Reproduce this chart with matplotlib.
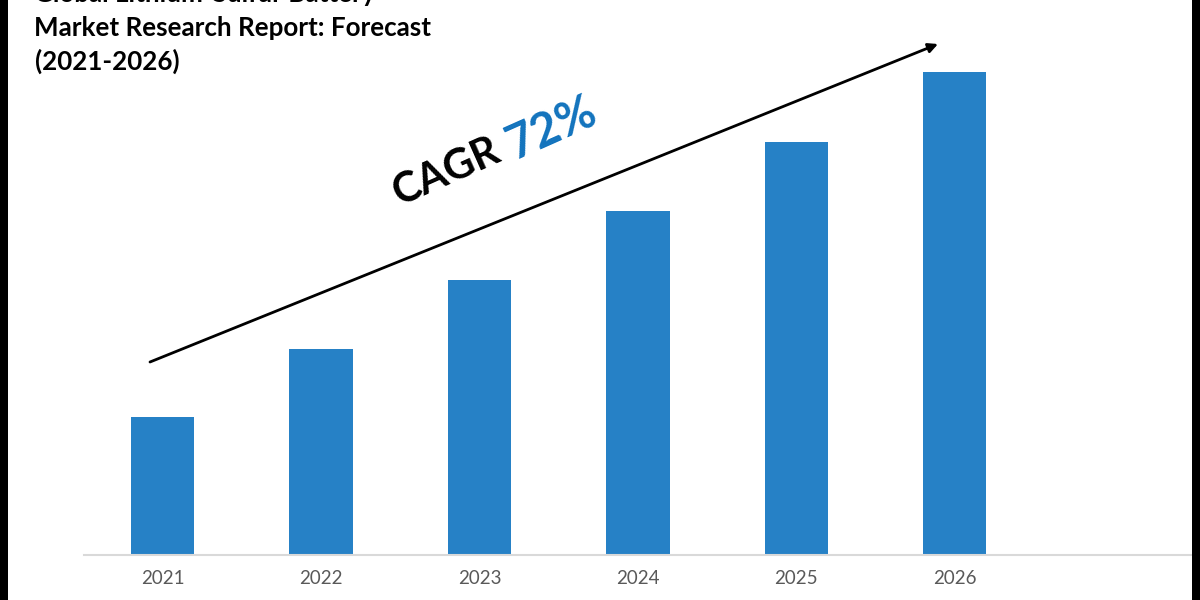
import numpy as np
import matplotlib
matplotlib.use('Agg')
import matplotlib.pyplot as plt
from matplotlib.patches import Rectangle, FancyArrowPatch

years = ['2021', '2022', '2023', '2024', '2025', '2026']
market_size = [137.5, 206, 274.5, 344, 412.5, 482.5]
title_lines = ['Global Lithium-Sulfur Battery', 'Market Research Report: Forecast', '(2021-2026)']

W, H = 1200, 600
BLUE = '#2681C6'

fig = plt.figure(figsize=(12, 6), dpi=100, facecolor='white')

# axes sit in pixel positions of the reference
ax = fig.add_axes([83.5 / W, 1 - 554.5 / H, (1192 - 83.5) / W, 554.5 / H])
x = np.arange(len(years))
ax.bar(x, market_size, width=0.4, color=BLUE)
ax.set_xlim(-0.5, -0.5 + (1192 - 83.5) / 158.4)
ax.set_ylim(0, 554.5)
ax.set_xticks(x)
ax.set_xticklabels(years, family='Lato', fontsize=13.5, color='#595959')
ax.tick_params(axis='x', length=0, pad=11)
ax.set_yticks([])
for s in ['top', 'left', 'right']:
    ax.spines[s].set_visible(False)
ax.spines['bottom'].set_color('#D9D9D9')
ax.spines['bottom'].set_linewidth(1.5)
ax.patch.set_alpha(0)

# black strips down both edges
fig.add_artist(Rectangle((0, 0), 8 / W, 1, transform=fig.transFigure, color='black', lw=0))
fig.add_artist(Rectangle((1192 / W, 0), 8 / W, 1, transform=fig.transFigure, color='black', lw=0))

# title, first line runs off the top like in the reference
for line, ypx in zip(title_lines, [2, 36, 70]):
    fig.text(34.5 / W, 1 - ypx / H, line, family='Lato', fontweight='bold', fontsize=18.7,
             color='black', ha='left', va='baseline')

# growth arrow
fig.add_artist(FancyArrowPatch(
    (150 / W, 1 - 362 / H), (938 / W, 1 - 44 / H), transform=fig.transFigure,
    arrowstyle='-|>', mutation_scale=14, color='black', lw=2, shrinkA=0, shrinkB=0))

fig.text(446 / W, 1 - 172 / H, 'CAGR', family='Lato', fontweight='bold', fontsize=30,
         color='black', rotation=24, ha='center', va='center', rotation_mode='anchor')
fig.text(552 / W, 1 - 128 / H, '72%', family='Lato', fontweight='bold', fontsize=34,
         color='#1273BD', rotation=24, ha='center', va='center', rotation_mode='anchor')

fig.savefig('out.png', dpi=100)
